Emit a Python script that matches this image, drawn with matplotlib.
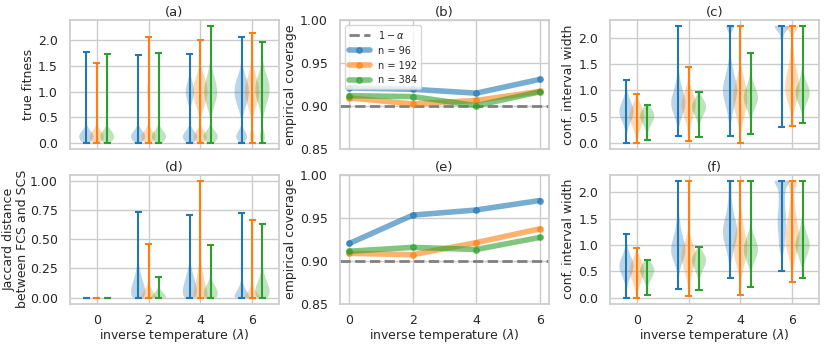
import numpy as np
import matplotlib.pyplot as plt
import seaborn as sns

lambdas = [0, 2, 4, 6]
sizes = [96, 192, 384]
colors = ['tab:blue', 'tab:orange', 'tab:green']

# empirical coverage, panels (b) and (e)
cov_top_96 = [0.921, 0.9195, 0.915, 0.931]
cov_top_192 = [0.9095, 0.9025, 0.9065, 0.917]
cov_top_384 = [0.912, 0.911, 0.9005, 0.9165]
cov_bot_96 = [0.920, 0.953, 0.959, 0.970]
cov_bot_192 = [0.9085, 0.907, 0.921, 0.937]
cov_bot_384 = [0.911, 0.9155, 0.913, 0.927]

# violin samples as (value, count) pairs, one list per lambda
fit_96 = [
    [(0.0, 3), (0.05, 8), (0.1, 14), (0.15, 14), (0.2, 8), (0.25, 4), (0.3, 1), (1.77, 1)],
    [(0.0, 3), (0.05, 8), (0.1, 14), (0.15, 14), (0.2, 8), (0.25, 4), (0.3, 1), (1.70, 1)],
    [(0.0, 3), (0.05, 7), (0.1, 12), (0.15, 12), (0.2, 7), (0.25, 3), (0.3, 1),
     (0.7, 2), (0.8, 5), (0.9, 9), (1.0, 11), (1.1, 9), (1.2, 5), (1.3, 2), (1.72, 1)],
    [(0.0, 2), (0.05, 5), (0.1, 9), (0.15, 9), (0.2, 5), (0.25, 2), (0.3, 1),
     (0.5, 2), (0.6, 5), (0.7, 9), (0.8, 13), (0.9, 16), (1.0, 17), (1.1, 16), (1.2, 13),
     (1.3, 9), (1.4, 5), (1.5, 2), (1.6, 1), (2.05, 1)],
]
fit_192 = [
    [(0.0, 3), (0.05, 8), (0.1, 14), (0.15, 14), (0.2, 8), (0.25, 4), (0.3, 1), (1.55, 1)],
    [(0.0, 3), (0.05, 8), (0.1, 14), (0.15, 14), (0.2, 8), (0.25, 4), (0.3, 1),
     (0.8, 1), (0.9, 3), (1.0, 4), (1.1, 3), (1.2, 1), (2.06, 1)],
    [(0.0, 3), (0.05, 7), (0.1, 12), (0.15, 12), (0.2, 7), (0.25, 3), (0.3, 1),
     (0.5, 2), (0.6, 5), (0.7, 10), (0.8, 15), (0.9, 18), (1.0, 19), (1.1, 18), (1.2, 15),
     (1.3, 10), (1.4, 5), (1.5, 2), (2.0, 1)],
    [(0.0, 1), (0.05, 2), (0.1, 4), (0.15, 4), (0.2, 2), (0.25, 1),
     (0.5, 2), (0.6, 5), (0.7, 9), (0.8, 13), (0.9, 16), (1.0, 17), (1.1, 16), (1.2, 13),
     (1.3, 9), (1.4, 6), (1.5, 3), (1.6, 2), (1.7, 1), (2.14, 1)],
]
fit_384 = [
    [(0.0, 3), (0.05, 8), (0.1, 14), (0.15, 14), (0.2, 8), (0.25, 4), (0.3, 1), (1.73, 1)],
    [(0.0, 3), (0.05, 8), (0.1, 14), (0.15, 14), (0.2, 8), (0.25, 4), (0.3, 1),
     (0.9, 2), (1.0, 3), (1.1, 2), (1.74, 1)],
    [(0.0, 3), (0.05, 7), (0.1, 12), (0.15, 12), (0.2, 7), (0.25, 3), (0.3, 1),
     (0.5, 2), (0.6, 4), (0.7, 8), (0.8, 12), (0.9, 15), (1.0, 16), (1.1, 15), (1.2, 12),
     (1.3, 8), (1.4, 5), (1.5, 3), (1.6, 1), (2.27, 1)],
    [(0.0, 1), (0.05, 2), (0.1, 4), (0.15, 4), (0.2, 2), (0.25, 1),
     (0.5, 2), (0.6, 4), (0.7, 7), (0.8, 11), (0.9, 14), (1.0, 16), (1.1, 16), (1.2, 14),
     (1.3, 10), (1.4, 6), (1.5, 3), (1.6, 1), (1.95, 1)],
]

jac_96 = [
    [(0.0, 20)],
    [(0.0, 12), (0.05, 14), (0.1, 12), (0.15, 8), (0.2, 5), (0.25, 3), (0.3, 1), (0.73, 1)],
    [(0.0, 12), (0.05, 14), (0.1, 12), (0.15, 9), (0.2, 6), (0.25, 3), (0.3, 1), (0.71, 1)],
    [(0.0, 20), (0.05, 10), (0.1, 4), (0.15, 1), (0.72, 1)],
]
jac_192 = [
    [(0.0, 20)],
    [(0.0, 20), (0.05, 8), (0.1, 3), (0.46, 1)],
    [(0.0, 14), (0.05, 12), (0.1, 9), (0.15, 7), (0.2, 5), (0.25, 3), (0.3, 2), (0.35, 1), (1.0, 1)],
    [(0.0, 22), (0.05, 6), (0.1, 2), (0.66, 1)],
]
jac_384 = [
    [(0.0, 20)],
    [(0.0, 25), (0.05, 4), (0.18, 1)],
    [(0.0, 10), (0.05, 12), (0.1, 6), (0.15, 2), (0.45, 1)],
    [(0.0, 10), (0.05, 12), (0.1, 10), (0.15, 6), (0.2, 3), (0.25, 1), (0.63, 1)],
]

ciw_top_96 = [
    [(0.0, 1), (0.2, 1), (0.3, 3), (0.4, 6), (0.5, 10), (0.6, 12), (0.7, 10), (0.8, 6), (0.9, 3), (1.0, 1), (1.2, 1)],
    [(0.14, 1), (0.3, 1), (0.4, 3), (0.5, 6), (0.6, 9), (0.7, 12), (0.8, 12), (0.9, 10), (1.0, 7),
     (1.1, 5), (1.2, 3), (1.3, 2), (1.4, 1), (1.6, 1), (2.22, 1)],
    [(0.14, 1), (0.4, 2), (0.5, 3), (0.6, 5), (0.7, 7), (0.8, 9), (0.9, 11), (1.0, 12), (1.1, 11),
     (1.2, 9), (1.3, 7), (1.4, 5), (1.5, 3), (1.6, 2), (1.8, 1), (2.1, 1), (2.22, 12)],
    [(0.3, 1), (0.6, 1), (0.7, 1), (0.8, 2), (0.9, 2), (1.0, 2), (1.1, 2), (1.2, 2), (1.3, 2), (1.4, 2),
     (1.5, 2), (1.6, 1), (1.7, 1), (1.8, 1), (1.9, 1), (2.0, 2), (2.1, 4), (2.22, 25)],
]
ciw_top_192 = [
    [(0.0, 1), (0.1, 1), (0.2, 3), (0.3, 6), (0.4, 9), (0.5, 11), (0.6, 10), (0.7, 7), (0.8, 3), (0.94, 1)],
    [(0.04, 1), (0.2, 1), (0.3, 2), (0.4, 4), (0.5, 7), (0.6, 9), (0.7, 11), (0.8, 11), (0.9, 8),
     (1.0, 5), (1.1, 2), (1.2, 1), (1.44, 1)],
    [(0.0, 1), (0.2, 1), (0.3, 2), (0.4, 4), (0.5, 6), (0.6, 8), (0.7, 10), (0.8, 11), (0.9, 11),
     (1.0, 10), (1.1, 8), (1.2, 6), (1.3, 4), (1.4, 2), (1.5, 1), (1.7, 1), (2.22, 4)],
    [(0.32, 1), (0.5, 1), (0.6, 2), (0.7, 4), (0.8, 6), (0.9, 8), (1.0, 9), (1.1, 9), (1.2, 8), (1.3, 7),
     (1.4, 5), (1.5, 4), (1.6, 3), (1.7, 2), (1.8, 2), (1.9, 1), (2.0, 1), (2.1, 2), (2.22, 14)],
]
ciw_top_384 = [
    [(0.06, 1), (0.25, 2), (0.35, 5), (0.45, 10), (0.55, 12), (0.65, 6), (0.72, 1)],
    [(0.12, 1), (0.35, 1), (0.45, 3), (0.55, 7), (0.65, 11), (0.75, 11), (0.85, 5), (0.96, 1)],
    [(0.18, 1), (0.45, 1), (0.55, 3), (0.65, 6), (0.75, 10), (0.85, 12), (0.95, 11), (1.05, 7),
     (1.15, 4), (1.25, 2), (1.4, 1), (1.7, 1)],
    [(0.38, 1), (0.55, 1), (0.65, 3), (0.75, 6), (0.85, 10), (0.95, 12), (1.05, 10), (1.15, 6),
     (1.25, 3), (1.35, 2), (1.5, 1), (1.7, 1), (2.0, 1), (2.22, 1)],
]

ciw_bot_96 = [
    [(0.0, 1), (0.2, 1), (0.3, 3), (0.4, 6), (0.5, 10), (0.6, 12), (0.7, 10), (0.8, 6), (0.9, 3), (1.0, 1), (1.2, 1)],
    [(0.16, 1), (0.4, 1), (0.5, 2), (0.6, 4), (0.7, 7), (0.8, 10), (0.9, 11), (1.0, 10), (1.1, 8),
     (1.2, 6), (1.3, 4), (1.4, 3), (1.5, 2), (1.6, 1), (1.8, 1), (2.22, 1)],
    [(0.38, 1), (0.6, 1), (0.7, 2), (0.8, 3), (0.9, 5), (1.0, 7), (1.1, 9), (1.2, 10), (1.3, 10),
     (1.4, 9), (1.5, 7), (1.6, 5), (1.7, 4), (1.8, 3), (1.9, 2), (2.0, 2), (2.1, 2), (2.22, 3)],
    [(0.5, 1), (0.8, 1), (0.9, 2), (1.0, 3), (1.1, 3), (1.2, 3), (1.3, 4), (1.4, 4), (1.5, 4),
     (1.6, 4), (1.7, 3), (1.8, 3), (1.9, 3), (2.0, 3), (2.1, 4), (2.22, 12)],
]
ciw_bot_192 = [
    [(0.0, 1), (0.1, 1), (0.2, 3), (0.3, 6), (0.4, 9), (0.5, 11), (0.6, 10), (0.7, 7), (0.8, 3), (0.94, 1)],
    [(0.04, 1), (0.2, 1), (0.3, 2), (0.4, 4), (0.5, 6), (0.6, 8), (0.7, 10), (0.8, 11), (0.9, 10),
     (1.0, 7), (1.1, 4), (1.2, 2), (1.3, 1), (1.6, 1), (2.22, 1)],
    [(0.06, 1), (0.3, 1), (0.4, 2), (0.5, 3), (0.6, 5), (0.7, 7), (0.8, 9), (0.9, 10), (1.0, 10),
     (1.1, 9), (1.2, 7), (1.3, 5), (1.4, 4), (1.5, 3), (1.6, 2), (1.7, 1), (1.9, 1), (2.22, 2)],
    [(0.3, 1), (0.5, 1), (0.6, 2), (0.7, 3), (0.8, 4), (0.9, 6), (1.0, 7), (1.1, 8), (1.2, 8), (1.3, 7),
     (1.4, 6), (1.5, 5), (1.6, 4), (1.7, 3), (1.8, 3), (1.9, 2), (2.0, 2), (2.1, 3), (2.22, 10)],
]
ciw_bot_384 = [
    [(0.06, 1), (0.25, 2), (0.35, 5), (0.45, 10), (0.55, 12), (0.65, 6), (0.72, 1)],
    [(0.14, 1), (0.35, 1), (0.45, 3), (0.55, 6), (0.65, 10), (0.75, 11), (0.85, 6), (0.96, 1)],
    [(0.2, 1), (0.5, 1), (0.6, 3), (0.7, 6), (0.8, 9), (0.9, 11), (1.0, 10), (1.1, 7), (1.2, 4),
     (1.3, 2), (1.5, 1), (1.8, 1), (2.22, 1)],
    [(0.38, 1), (0.55, 1), (0.65, 3), (0.75, 5), (0.85, 8), (0.95, 11), (1.05, 11), (1.15, 8),
     (1.25, 5), (1.35, 3), (1.45, 2), (1.6, 1), (1.9, 1), (2.22, 1)],
]


def expand(pairs):
    'turn (value, count) pairs into a sample'
    return np.repeat([v for v, c in pairs], [c for v, c in pairs])


def draw_violins(ax, groups, bw):
    offsets = [-0.4, 0.0, 0.4]
    for grp, col, off in zip(groups, colors, offsets):
        parts = ax.violinplot([expand(p) for p in grp],
                              positions=[l + off for l in lambdas],
                              widths=0.55, points=200,
                              bw_method=lambda k: bw / np.std(k.dataset, ddof=1))
        for body in parts['bodies']:
            body.set_facecolor(col)
            body.set_edgecolor('none')
            body.set_alpha(0.3)
        for key in ('cbars', 'cmins', 'cmaxes'):
            parts[key].set_color(col)
            parts[key].set_linewidth(1.5)


def draw_coverage(ax, series, legend=False):
    ax.axhline(0.9, color='gray', ls='--', lw=2, label=r'$1-\alpha$')
    for vals, col, n in zip(series, colors, sizes):
        ax.plot(lambdas, vals, '-o', color=col, lw=4, ms=4, alpha=0.6, label=f'n = {n}')
    ax.set_ylim(0.85, 1.0)
    ax.set_yticks([0.85, 0.90, 0.95, 1.00])
    ax.set_ylabel('empirical coverage')
    if legend:
        ax.legend(loc='upper left', fontsize=7, handlelength=2.2)


sns.set_theme(style='whitegrid')
plt.rcParams['font.family'] = ['DejaVu Sans']
plt.rcParams['font.size'] = 9
plt.rcParams['axes.labelsize'] = 9
plt.rcParams['axes.titlesize'] = 9.5
plt.rcParams['axes.labelpad'] = 2
plt.rcParams['xtick.labelsize'] = 9
plt.rcParams['ytick.labelsize'] = 9
plt.rcParams['xtick.major.pad'] = 1.5
plt.rcParams['ytick.major.pad'] = 2.5

fig, axes = plt.subplots(2, 3, figsize=(8.3, 3.47), dpi=100, sharex='col')

ax = axes[0, 0]
draw_violins(ax, [fit_96, fit_192, fit_384], 0.08)
ax.set_ylabel('true fitness')
ax.set_yticks([0.0, 0.5, 1.0, 1.5, 2.0])
ax.set_title('(a)', pad=3)

ax = axes[1, 0]
draw_violins(ax, [jac_96, jac_192, jac_384], 0.035)
ax.set_ylabel('Jaccard distance\nbetween FCS and SCS', linespacing=0.95, labelpad=1)
ax.set_yticks([0.0, 0.25, 0.5, 0.75, 1.0])
ax.set_title('(d)', pad=3)

draw_coverage(axes[0, 1], [cov_top_96, cov_top_192, cov_top_384], legend=True)
axes[0, 1].set_title('(b)', pad=3)
draw_coverage(axes[1, 1], [cov_bot_96, cov_bot_192, cov_bot_384])
axes[1, 1].set_title('(e)', pad=3)

ax = axes[0, 2]
draw_violins(ax, [ciw_top_96, ciw_top_192, ciw_top_384], 0.08)
ax.set_ylabel('conf. interval width')
ax.set_yticks([0.0, 0.5, 1.0, 1.5, 2.0])
ax.set_title('(c)', pad=3)

ax = axes[1, 2]
draw_violins(ax, [ciw_bot_96, ciw_bot_192, ciw_bot_384], 0.08)
ax.set_ylabel('conf. interval width')
ax.set_yticks([0.0, 0.5, 1.0, 1.5, 2.0])
ax.set_title('(f)', pad=3)

for ax in axes[1]:
    ax.set_xticks(lambdas)
    ax.set_xlabel(r'inverse temperature ($\lambda$)', labelpad=0)

fig.subplots_adjust(left=0.084, right=0.987, bottom=0.125, top=0.942, wspace=0.29, hspace=0.2)
fig.savefig('out.png', dpi=100)
